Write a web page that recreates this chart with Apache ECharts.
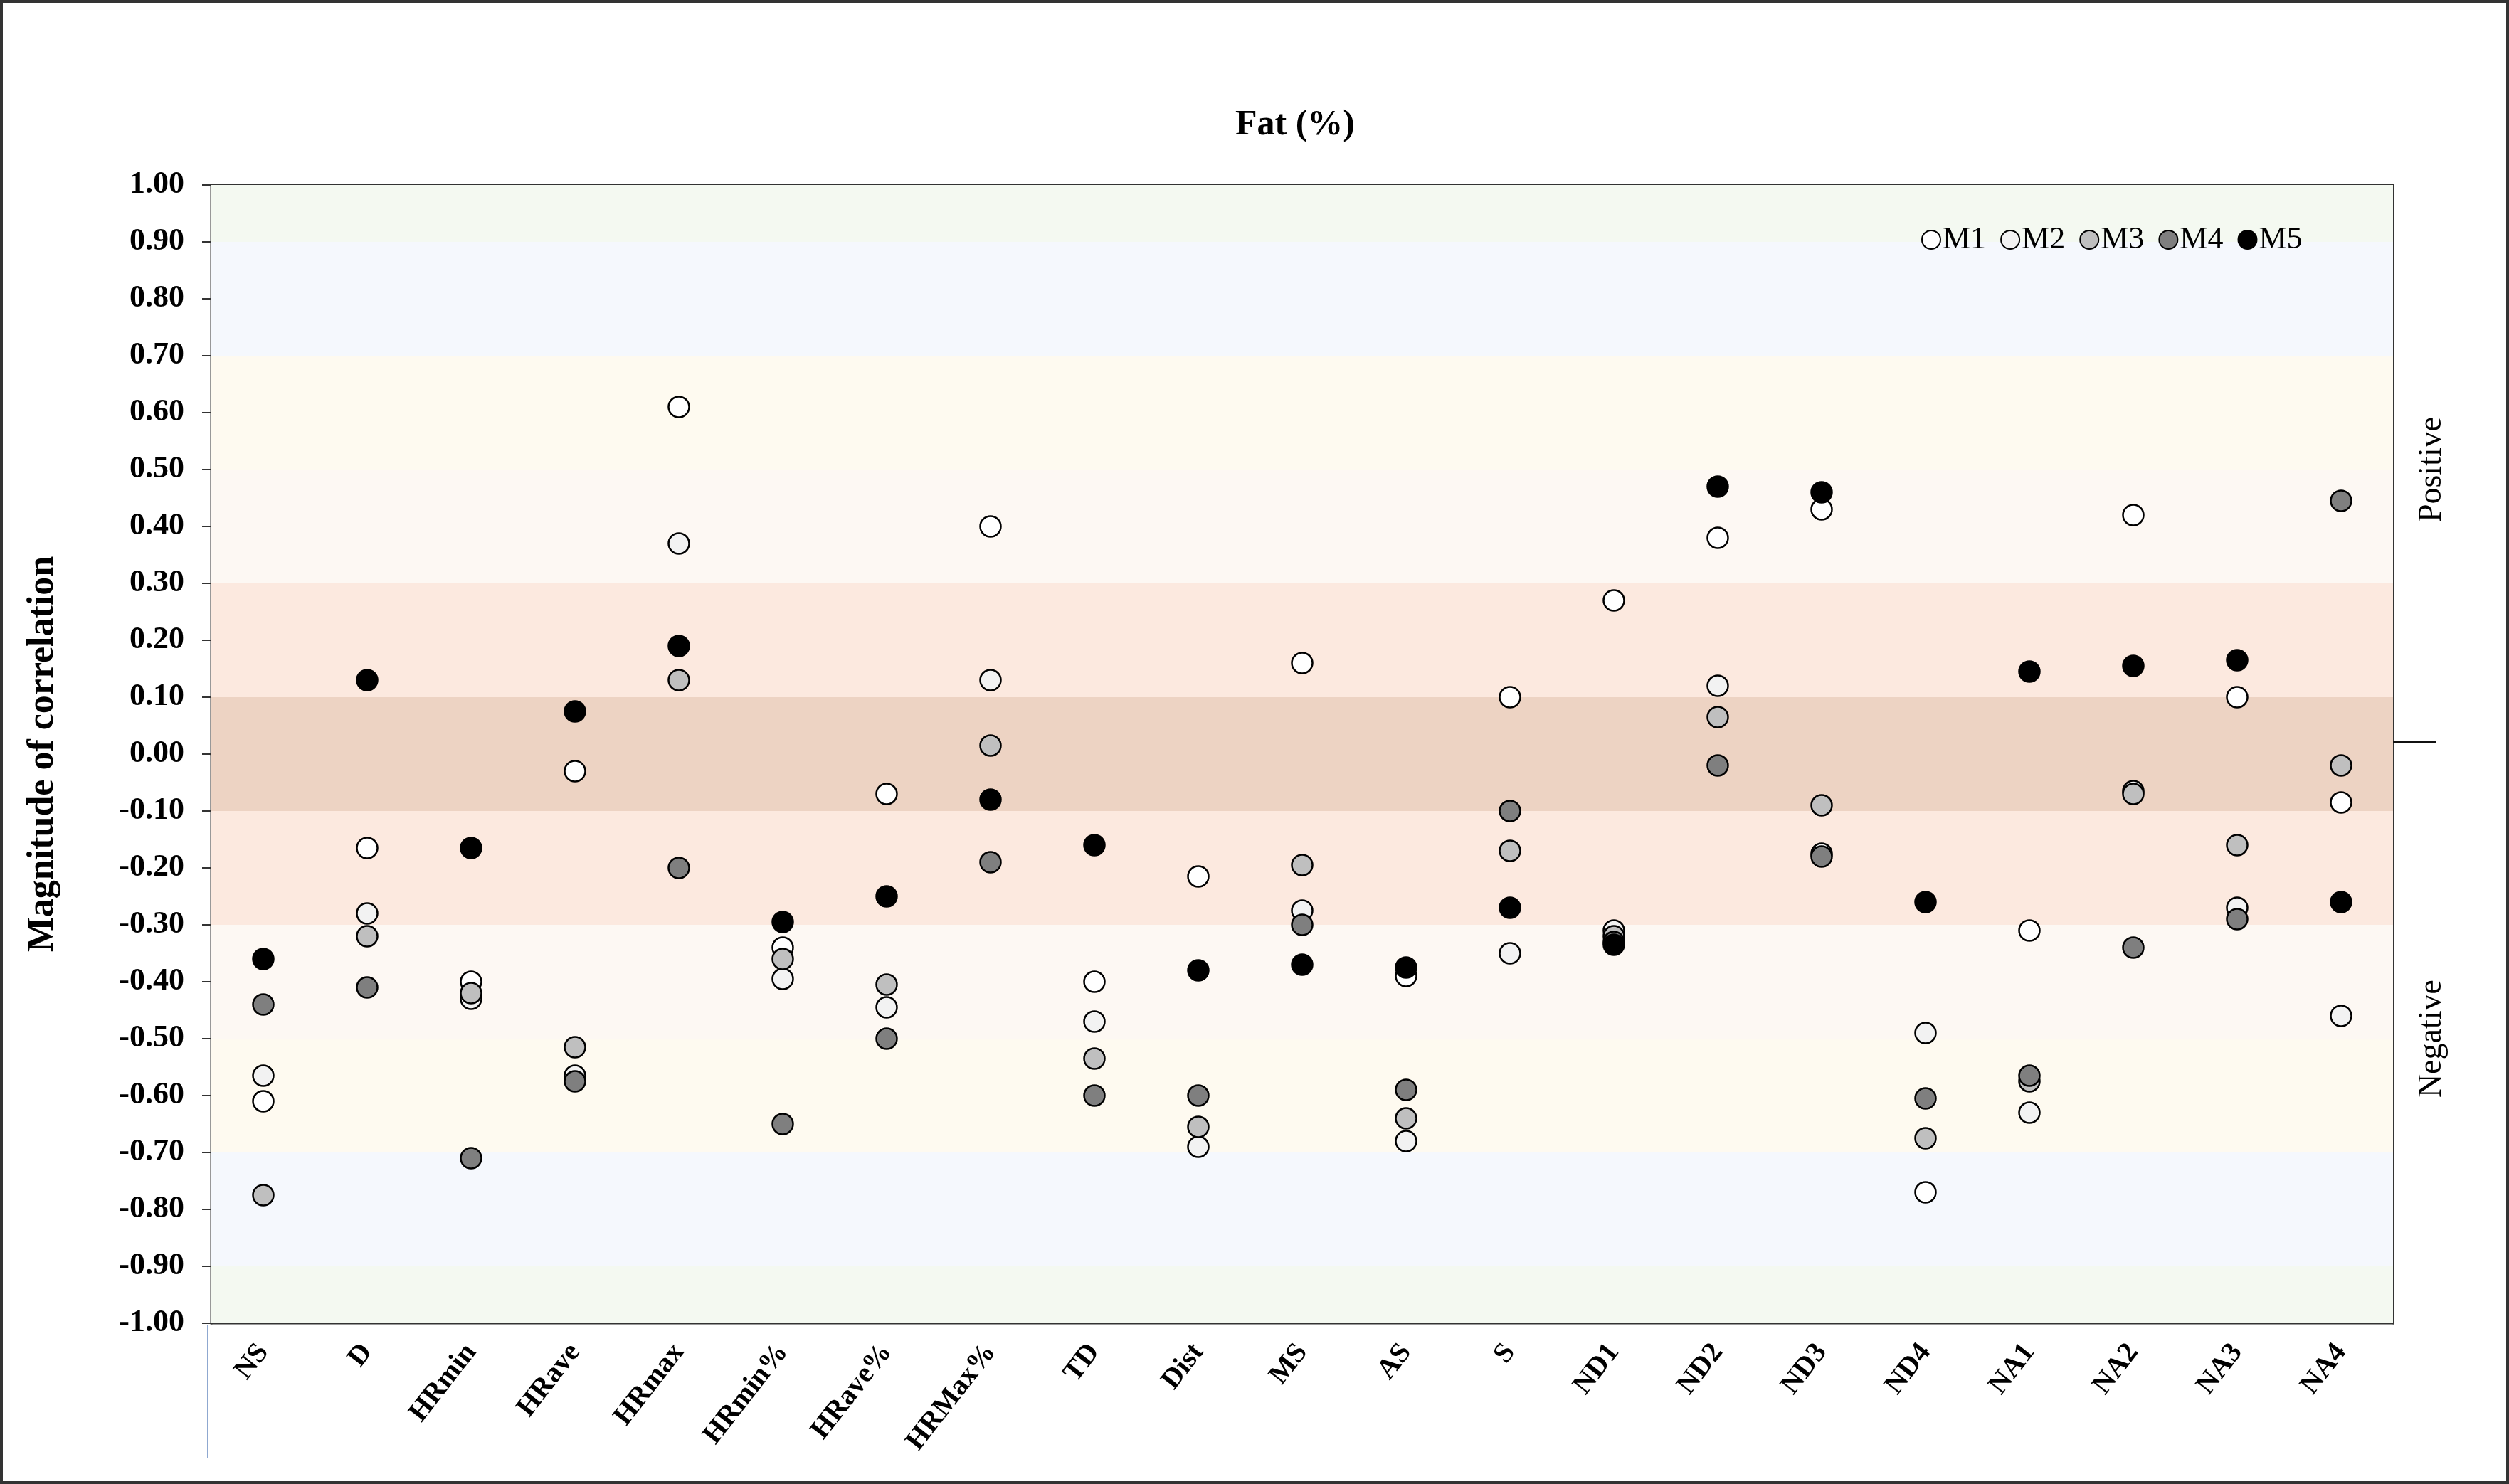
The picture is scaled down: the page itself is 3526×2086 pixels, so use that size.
<!DOCTYPE html>
<html>
<head>
<meta charset="utf-8">
<script src="https://cdn.jsdelivr.net/npm/echarts@6/dist/echarts.min.js"></script>
<style>
html,body{margin:0;padding:0;background:#fff;}
#chart{width:3526px;height:2086px;}
</style>
</head>
<body>
<div id="chart"></div>
<script>
// ---- data ----
const categories = ['NS','D','HRmin','HRave','HRmax','HRmin%','HRave%','HRMax%','TD','Dist','MS','AS','S','ND1','ND2','ND3','ND4','NA1','NA2','NA3','NA4'];
const seriesNames = ['M1','M2','M3','M4','M5'];
const m1 = [-0.61,-0.165,-0.40,-0.03,0.61,-0.34,-0.07,0.40,-0.40,-0.215,0.16,-0.39,0.10,0.27,0.38,0.43,-0.77,-0.31,0.42,0.10,-0.085];
const m2 = [-0.565,-0.28,-0.43,-0.565,0.37,-0.395,-0.445,0.13,-0.47,-0.69,-0.275,-0.68,-0.35,-0.31,0.12,-0.175,-0.49,-0.63,-0.065,-0.27,-0.46];
const m3 = [-0.775,-0.32,-0.42,-0.515,0.13,-0.36,-0.405,0.015,-0.535,-0.655,-0.195,-0.64,-0.17,-0.32,0.065,-0.09,-0.675,-0.575,-0.07,-0.16,-0.02];
const m4 = [-0.44,-0.41,-0.71,-0.575,-0.20,-0.65,-0.50,-0.19,-0.60,-0.60,-0.30,-0.59,-0.10,-0.33,-0.02,-0.18,-0.605,-0.565,-0.34,-0.29,0.445];
const m5 = [-0.36,0.13,-0.165,0.075,0.19,-0.295,-0.25,-0.08,-0.16,-0.38,-0.37,-0.375,-0.27,-0.335,0.47,0.46,-0.26,0.145,0.155,0.165,-0.26];
const yTicks = {min:-1, max:1, step:0.1};
const sideLabels = ['Negative','Positive'];
const sideLabelAt = [-0.5, 0.5];
const sideTickAt = [0.022];
// magnitude bands: [from, to]
const bandEdges = [[0.9,1.0],[0.7,0.9],[0.5,0.7],[0.3,0.5],[0.1,0.3],[-0.1,0.1],[-0.3,-0.1],[-0.5,-0.3],[-0.7,-0.5],[-0.9,-0.7],[-1.0,-0.9]];

// ---- styles ----
const bandColors = ['#f4f9f1','#f5f8fd','#fefaf0','#fdf8f3','#fce9df','#edd3c3','#fce9df','#fdf8f3','#fefaf0','#f5f8fd','#f4f9f1'];
const markerColors = ['#ffffff','#f2f2f2','#bfbfbf','#7f7f7f','#000000'];
const FONT = '"Liberation Serif","Times New Roman",serif';

const chart = echarts.init(document.getElementById('chart'), null, {renderer:'canvas'});

const values = [m1,m2,m3,m4,m5];
const series = [{
  type:'scatter', name:'bands', data:[], silent:true, z:1,
  markArea:{
    silent:true,
    data: bandEdges.map((b,i)=>[{yAxis:b[0], itemStyle:{color:bandColors[i]}},{yAxis:b[1]}])
  }
}];
values.forEach((arr,i)=>{
  series.push({
    type:'scatter', name:seriesNames[i], z:3+i,
    symbol:'circle', symbolSize:29,
    itemStyle:{color:markerColors[i], borderColor:'#000', borderWidth:2.5, opacity:1},
    data: arr.map((v,j)=>[categories[j], v])
  });
});

chart.setOption({
  backgroundColor:'#ffffff',
  animation:false,
  textStyle:{fontFamily:FONT, color:'#000'},
  title:{
    text:'Fat (%)', left:1815, top:146, textAlign:'center',
    textStyle:{fontFamily:FONT, fontSize:50, fontWeight:'bold', color:'#000'}
  },
  legend:{
    data:seriesNames, left:2700, top:315, orient:'horizontal',
    icon:'circle', itemWidth:26, itemHeight:26, itemGap:20, padding:0,
    textStyle:{fontFamily:FONT, fontSize:44, color:'#000', padding:[0,0,0,-2]}
  },
  grid:{left:297, right:163, top:260, bottom:226, show:true, borderColor:'#333', borderWidth:3, backgroundColor:'transparent'},
  xAxis:{
    type:'category', data:categories, boundaryGap:true,
    axisLine:{show:true, lineStyle:{color:'#333', width:3}},
    axisTick:{show:true, interval:0, length:13, lineStyle:{color:'#333', width:2}},
    axisLabel:{interval:0, rotate:52, margin:34, fontFamily:FONT, fontSize:40, fontWeight:'bold', color:'#000'},
    splitLine:{show:false}
  },
  yAxis:[{
    type:'value', min:yTicks.min, max:yTicks.max, interval:yTicks.step,
    name:'Magnitude of correlation', nameLocation:'middle', nameGap:210, nameRotate:90,
    nameTextStyle:{fontFamily:FONT, fontSize:52, fontWeight:'bold', color:'#000'},
    axisLine:{show:true, lineStyle:{color:'#333', width:3}},
    axisTick:{show:true, length:13, lineStyle:{color:'#333', width:2}},
    axisLabel:{margin:38, fontFamily:FONT, fontSize:44, fontWeight:'bold', color:'#000',
      formatter:v=>v.toFixed(2)},
    splitLine:{show:false}
  },{
    type:'value', position:'right', min:yTicks.min, max:yTicks.max,
    axisLine:{show:true, lineStyle:{color:'#333', width:3}},
    axisTick:{show:true, length:60, inside:false, customValues:sideTickAt, lineStyle:{color:'#111', width:2}},
    axisLabel:{show:true, rotate:90, margin:32, customValues:sideLabelAt, fontFamily:FONT, fontSize:46, color:'#000',
      formatter:v=> v<0 ? sideLabels[0] : sideLabels[1]},
    splitLine:{show:false}
  }],
  graphic:[
    {type:'rect', silent:true, shape:{x:2, y:2, width:3522, height:2082}, style:{fill:null, stroke:'#333', lineWidth:4}, z:100},
    {type:'line', silent:true, shape:{x1:292, y1:1862, x2:292, y2:2050}, style:{stroke:'#8fa8d0', lineWidth:2}, z:100}
  ],
  series: series
});
</script>
</body>
</html>
